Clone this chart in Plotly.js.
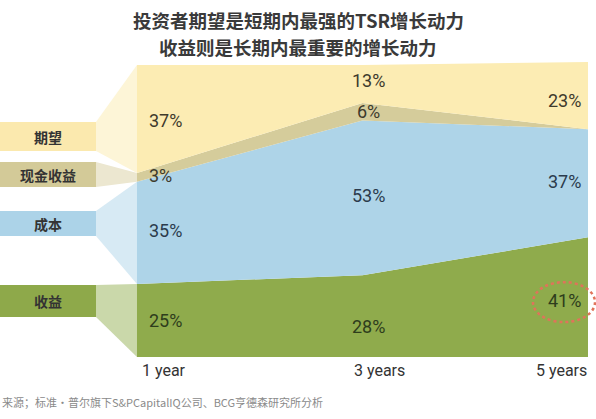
<!DOCTYPE html>
<html>
<head>
<meta charset="utf-8">
<script src="https://cdn.plot.ly/plotly-3.0.1.min.js"></script>
<style>html,body{margin:0;padding:0;background:#fff;}#chart{width:596px;height:419px;}</style>
</head>
<body>
<div id="chart"></div>
<script>
// ---- data ----
const periods = [1, 3, 5];
const periodLabels = ['1 year', '3 years', '5 years'];
const seriesNames = ['收益', '成本', '现金收益', '期望'];
const revenue = [25, 28, 41];      // 收益
const cost = [35, 53, 37];         // 成本
const cashReturn = [3, 6, 0];      // 现金收益
const expectation = [37, 13, 23];  // 期望
const titleLines = ['投资者期望是短期内最强的TSR增长动力', '收益则是长期内最重要的增长动力'];
const sourceText = '来源；标准・普尔旗下S&PCapitalIQ公司、BCG亨德森研究所分析';

// ---- style ----
const series = [revenue, cost, cashReturn, expectation];
const areaColors = ['#8fab4c', '#aed4e8', '#d5cc9b', '#fcecb3'];
const boxColors = ['#8ea94a', '#acd3e8', '#d3ca98', '#fbe9ae'];
const funnelColors = ['#cad8aa', '#d7eaf4', '#ece7d0', '#fdf5d7'];
const textColors = ['#2e3d1c', '#2b3b4c', '#3d3a2c', '#3e3a2c'];
const W = 596, H = 419, mL = 0, mR = 0, mT = 55, mB = 62;
const xRange = [-0.215, 5.071], yRange = [0, 103.4];
const plotW = W - mL - mR, plotH = H - mT - mB;
const fx = px => xRange[0] + (px - mL) / plotW * (xRange[1] - xRange[0]);
const fy = py => yRange[0] + (H - mB - py) / plotH * (yRange[1] - yRange[0]);
const py2paper = py => (H - mB - py) / plotH;
const boxes = [
  {y0: 285, y1: 317}, {y0: 211, y1: 236}, {y0: 162, y1: 187}, {y0: 122, y1: 151}
];
const boxX1 = 96;
const labelAnchor = ['left', 'center', 'right'];
const labelXShift = [10, 6, -5];
const labelYShift = [[0, -10, -3], [2, 2, 2], [2, 0, 0], [-2, 3, -5]];
const pctFont = 'Roboto, Liberation Sans, sans-serif';

const traces = series.map((vals, i) => ({
  type: 'scatter', mode: 'none', x: periods, y: vals, name: seriesNames[i],
  stackgroup: 'one', fill: 'tonexty', fillcolor: areaColors[i], line: {width: 0},
  hoverinfo: 'skip', showlegend: false
}));

const cum = [];
series.forEach((vals, i) => {
  cum.push(vals.map((v, j) => (i ? cum[i - 1][j] : 0) + v));
});

const shapes = [];
const annotations = [];
series.forEach((vals, i) => {
  const lo = i ? cum[i - 1][0] : 0, hi = cum[i][0];
  const b = boxes[i];
  shapes.push({
    type: 'path', xref: 'x', yref: 'y', layer: 'below', line: {width: 0}, fillcolor: funnelColors[i],
    path: `M ${fx(boxX1)} ${fy(b.y0)} L ${periods[0]} ${hi} L ${periods[0]} ${lo} L ${fx(boxX1)} ${fy(b.y1)} Z`
  });
  shapes.push({
    type: 'rect', xref: 'x', yref: 'y', layer: 'below', line: {width: 0}, fillcolor: boxColors[i],
    x0: fx(0), x1: fx(boxX1), y0: fy(b.y1), y1: fy(b.y0)
  });
  annotations.push({
    xref: 'x', yref: 'y', x: fx(boxX1 / 2), y: fy((b.y0 + b.y1) / 2), text: '<b>' + seriesNames[i] + '</b>',
    showarrow: false, font: {family: 'Noto Sans CJK SC, sans-serif', size: 14, color: '#333'}
  });
  vals.forEach((v, j) => {
    if (!v) return;
    const mid = (i ? cum[i - 1][j] : 0) + v / 2;
    annotations.push({
      xref: 'x', yref: 'y', x: periods[j], y: mid, text: v + '%', showarrow: false,
      xanchor: labelAnchor[j], xshift: labelXShift[j], yshift: labelYShift[i][j],
      font: {family: pctFont, size: 18, color: textColors[i]}
    });
  });
});

periods.forEach((p, j) => {
  annotations.push({
    xref: 'x', yref: 'y', x: p, y: 0, yanchor: 'top', yshift: -2, text: periodLabels[j], showarrow: false,
    xanchor: labelAnchor[j], xshift: [3, 17, 1][j], font: {family: pctFont, size: 16, color: '#333'}
  });
});

titleLines.forEach((t, k) => {
  annotations.push({
    xref: 'paper', yref: 'paper', x: 0.5, y: py2paper([20, 47][k]), xanchor: 'center', yanchor: 'middle',
    text: '<b>' + t + '</b>', showarrow: false,
    font: {family: 'Noto Sans CJK SC, sans-serif', size: 18.5, color: '#3a3a3a'}
  });
});

annotations.push({
  xref: 'paper', yref: 'paper', x: 0, y: py2paper(402), xanchor: 'left', yanchor: 'middle',
  text: sourceText, showarrow: false, font: {family: 'Noto Sans CJK SC, sans-serif', size: 11, color: '#8a8a8a'}
});

shapes.push({
  type: 'circle', xref: 'x', yref: 'y', xsizemode: 'pixel', ysizemode: 'pixel',
  xanchor: periods[2], yanchor: revenue[2] / 2, x0: -55, x1: 7, y0: -25, y1: 15,
  line: {color: '#e0735a', width: 2.5, dash: 'dot'}, layer: 'above'
});

const layout = {
  width: W, height: H, margin: {l: mL, r: mR, t: mT, b: mB},
  paper_bgcolor: '#fff', plot_bgcolor: 'rgba(0,0,0,0)',
  xaxis: {range: xRange, visible: false, fixedrange: true},
  yaxis: {range: yRange, visible: false, fixedrange: true},
  showlegend: false, hovermode: false, shapes, annotations
};

Plotly.newPlot('chart', traces, layout, {displayModeBar: false, staticPlot: true});
</script>
</body>
</html>
